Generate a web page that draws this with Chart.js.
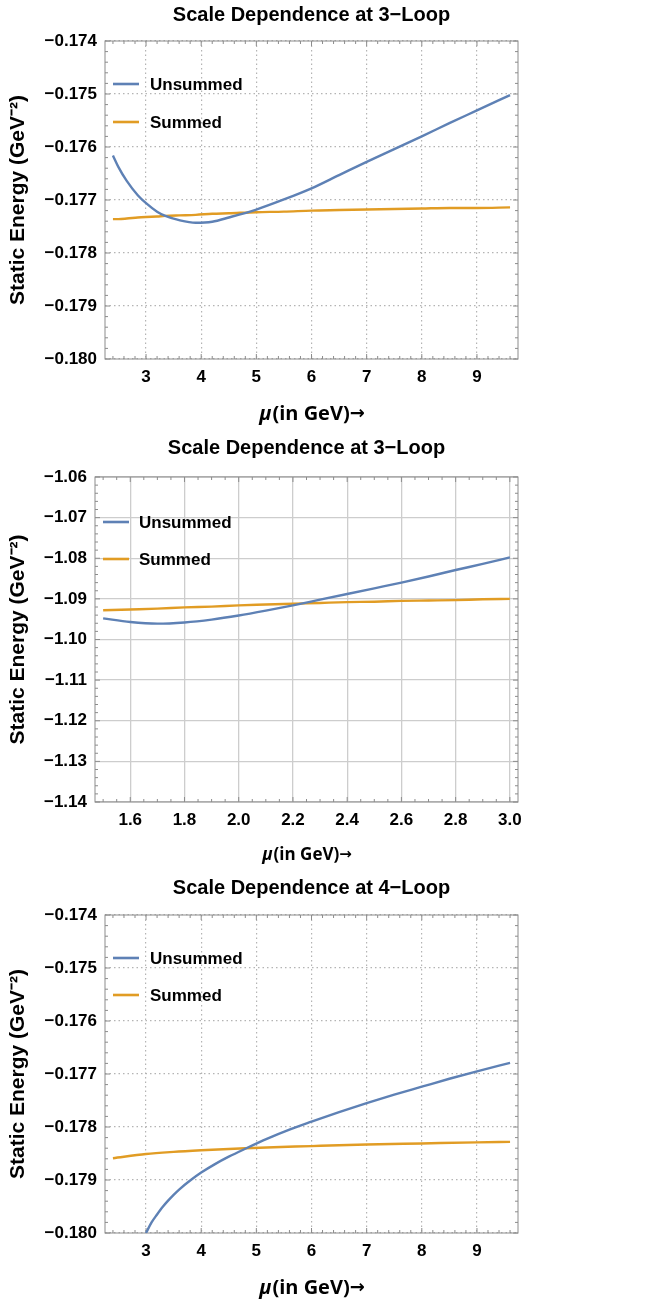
<!DOCTYPE html>
<html>
<head>
<meta charset="utf-8">
<script src="https://cdn.jsdelivr.net/npm/chart.js@4.4.0/dist/chart.umd.min.js"></script>
<style>
  html, body { margin: 0; padding: 0; background: #fff; }
  .panel { position: absolute; left: 0; width: 650px; }
</style>
</head>
<body>
<div class="panel" style="top:0"><canvas id="chart1" width="650" height="428"></canvas></div>
<div class="panel" style="top:428px"><canvas id="chart2" width="650" height="440"></canvas></div>
<div class="panel" style="top:868px"><canvas id="chart3" width="650" height="438"></canvas></div>
<script>
// --- panel 1: 3-loop, mu from 2.4 to 9.6 ---
const mu1 = [2.4, 2.5, 2.65, 2.85, 3.0, 3.2, 3.35, 3.6, 3.9, 4.2, 4.5, 5.0, 5.5, 6.0, 6.5, 7.0, 7.5, 8.0, 8.5, 9.0, 9.6];
const unsummed1 = [-0.17616, -0.17638, -0.17664, -0.17691, -0.17706, -0.17722, -0.17730, -0.17738, -0.17743,
  -0.17741, -0.17733, -0.17718, -0.17699, -0.17678, -0.17653, -0.17628, -0.17604, -0.17580, -0.17555, -0.17531, -0.17502];
const summed1 = [-0.17736, -0.17736, -0.17735, -0.17733, -0.17732, -0.17731, -0.17730, -0.17729, -0.17728,
  -0.17726, -0.17725, -0.17723, -0.17722, -0.17720, -0.17719, -0.17718, -0.17717, -0.17716, -0.17715, -0.17715, -0.17714];
const xTicks1 = [3, 4, 5, 6, 7, 8, 9];
const yTicks1 = [-0.180, -0.179, -0.178, -0.177, -0.176, -0.175, -0.174];

// --- panel 2: 3-loop, mu from 1.5 to 3.0 ---
const mu2 = [1.5, 1.6, 1.7, 1.8, 1.9, 2.0, 2.1, 2.2, 2.3, 2.4, 2.5, 2.6, 2.7, 2.8, 2.9, 3.0];
const unsummed2 = [-1.0948, -1.0957, -1.0961, -1.0958, -1.0951, -1.0941, -1.0929, -1.0916, -1.0902, -1.0888,
  -1.0874, -1.0860, -1.0845, -1.0829, -1.0814, -1.0798];
const summed2 = [-1.0928, -1.0926, -1.0924, -1.0921, -1.0919, -1.0916, -1.0914, -1.0912, -1.0910, -1.0908,
  -1.0907, -1.0905, -1.0904, -1.0903, -1.0901, -1.0900];
const xTicks2 = [1.6, 1.8, 2.0, 2.2, 2.4, 2.6, 2.8, 3.0];
const yTicks2 = [-1.14, -1.13, -1.12, -1.11, -1.10, -1.09, -1.08, -1.07, -1.06];

// --- panel 3: 4-loop (unsummed runs off the bottom below mu = 3) ---
const mu3Unsummed = [3.0, 3.1, 3.2, 3.3, 3.4, 3.5, 3.6, 3.8, 4.0, 4.25, 4.5, 4.8, 5.2, 5.6, 6.0, 6.5, 7.0, 7.5, 8.0, 8.5, 9.0, 9.6];
const unsummed3 = [-0.18000, -0.17980, -0.17965, -0.17951, -0.17939, -0.17928, -0.17918, -0.17901, -0.17886,
  -0.17870, -0.17856, -0.17841, -0.17822, -0.17805, -0.17790, -0.17772, -0.17755, -0.17739, -0.17724, -0.17709,
  -0.17695, -0.17679];
const mu3Summed = [2.4, 3.0, 3.5, 4.0, 4.8, 6.0, 7.0, 8.0, 9.0, 9.6];
const summed3 = [-0.17859, -0.17851, -0.17847, -0.17844, -0.17840, -0.17836, -0.17833, -0.17831, -0.17829, -0.17828];
const xTicks3 = [3, 4, 5, 6, 7, 8, 9];
const yTicks3 = [-0.180, -0.179, -0.178, -0.177, -0.176, -0.175, -0.174];

const seriesNames = ['Unsummed', 'Summed'];
const titles = ['Scale Dependence at 3\u2212Loop', 'Scale Dependence at 3\u2212Loop', 'Scale Dependence at 4\u2212Loop'];
const yTitle = 'Static Energy (GeV\u207B\u00B2)';

const BLUE = '#5E81B5';
const ORANGE = '#E19C24';
const FONT = '"Liberation Sans", Arial, sans-serif';
Chart.defaults.font.family = FONT;
Chart.defaults.color = '#000';

const pts = (xs, ys) => xs.map((x, i) => ({ x: x, y: ys[i] }));
const minus = s => s.replace('-', '\u2212');

// frame with inward major/minor ticks, Mathematica style
const framePlugin = {
  id: 'frame',
  beforeDatasetsDraw(chart, args, o) {
    const { ctx, chartArea: a, scales: { x, y } } = chart;
    ctx.save();
    ctx.strokeStyle = '#8c8c8c';
    ctx.lineWidth = 1;
    const seg = (x1, y1, x2, y2) => { ctx.beginPath(); ctx.moveTo(x1, y1); ctx.lineTo(x2, y2); ctx.stroke(); };
    const x0 = Math.ceil(x.min / o.xStep - 1e-6) * o.xStep;
    for (let i = 0; i < 200; i++) {
      const v = x0 + i * o.xStep;
      if (v > x.max) break;
      const major = o.xTicks.some(t => Math.abs(t - v) < 1e-6);
      const len = major ? 5 : 3;
      const px = x.getPixelForValue(v);
      seg(px, a.bottom, px, a.bottom - len);
      seg(px, a.top, px, a.top + len);
    }
    for (let i = 0; i < 200; i++) {
      const v = y.min + i * o.yStep;
      if (v > y.max + 1e-9) break;
      const major = o.yTicks.some(t => Math.abs(t - v) < o.yStep / 10);
      const len = major ? 5 : 3;
      const py = y.getPixelForValue(v);
      seg(a.left, py, a.left + len, py);
      seg(a.right, py, a.right - len, py);
    }
    ctx.strokeRect(a.left, a.top, a.right - a.left, a.bottom - a.top);
    ctx.restore();
  }
};

// legend drawn inside the plot, top-left
const innerLegend = {
  id: 'innerLegend',
  afterDatasetsDraw(chart, args, o) {
    const { ctx, chartArea: a } = chart;
    ctx.save();
    ctx.font = 'bold 17px ' + FONT;
    ctx.textBaseline = 'middle';
    ctx.fillStyle = '#000';
    chart.data.datasets.forEach((ds, i) => {
      const yy = a.top + o.y0 + i * o.dy;
      ctx.strokeStyle = ds.borderColor;
      ctx.lineWidth = 2.6;
      ctx.beginPath();
      ctx.moveTo(a.left + o.x0, yy);
      ctx.lineTo(a.left + o.x0 + 26, yy);
      ctx.stroke();
      ctx.fillText(ds.label, a.left + o.tx, yy + 1);
    });
    ctx.restore();
  }
};

// x axis title with an italic mu
const xTitlePlugin = {
  id: 'xTitle',
  afterDraw(chart, args, o) {
    const { ctx, chartArea: a } = chart;
    ctx.save();
    ctx.textBaseline = 'middle';
    ctx.fillStyle = '#000';
    const parts = [
      ['\u03BC', 'italic bold ' + o.size + 'px "Open Sans", ' + FONT],
      ['(in GeV)', 'bold ' + o.size + 'px "Open Sans", ' + FONT],
      ['\u2192', 'bold ' + Math.round(o.size * 0.9) + 'px "DejaVu Sans", ' + FONT]
    ];
    const widths = parts.map(p => { ctx.font = p[1]; return ctx.measureText(p[0]).width; });
    let xx = (a.left + a.right) / 2 - widths.reduce((s, w) => s + w, 0) / 2;
    parts.forEach((p, i) => {
      ctx.font = p[1];
      ctx.fillText(p[0], xx, o.y);
      xx += widths[i] + (i === 0 ? 1 : 0);
    });
    ctx.restore();
  }
};

function makeChart(id, p) {
  const dotted = p.dotted;
  const gridOpts = { color: dotted ? '#b4b4b4' : '#cdcdcd', lineWidth: dotted ? 1.2 : 1.3, drawTicks: false, tickLength: 0 };
  const borderOpts = { display: false, dash: dotted ? [1.5, 3] : [] };
  return new Chart(document.getElementById(id), {
    type: 'line',
    data: {
      datasets: [
        { label: seriesNames[0], data: p.unsummed, borderColor: BLUE, borderWidth: 2.4, pointRadius: 0,
          cubicInterpolationMode: 'monotone', fill: false },
        { label: seriesNames[1], data: p.summed, borderColor: ORANGE, borderWidth: 2.4, pointRadius: 0,
          cubicInterpolationMode: 'monotone', fill: false }
      ]
    },
    options: {
      responsive: false,
      animation: false,
      layout: { padding: { top: 0, right: 650 - p.right, bottom: 0, left: 0 } },
      scales: {
        x: {
          type: 'linear',
          min: p.xMin,
          max: p.xMax,
          afterBuildTicks: s => { s.ticks = p.xTicks.map(v => ({ value: v })); },
          afterFit: s => { s.height = p.height - p.bottom; },
          ticks: {
            autoSkip: false, maxRotation: 0, padding: 8,
            font: { size: 17, weight: 'bold' },
            callback: v => v.toFixed(p.xDec)
          },
          grid: gridOpts,
          border: borderOpts
        },
        y: {
          type: 'linear',
          min: p.yMin,
          max: p.yMax,
          afterBuildTicks: s => { s.ticks = p.yTicks.map(v => ({ value: v })); },
          afterFit: s => { s.width = p.left; },
          ticks: {
            autoSkip: false, padding: 8,
            font: { size: 17, weight: 'bold' },
            callback: v => minus(v.toFixed(p.yDec))
          },
          grid: gridOpts,
          border: borderOpts,
          title: {
            display: true, text: yTitle, color: '#000',
            font: { size: 21, weight: 'bold' },
            padding: { top: 6, bottom: 0 }
          }
        }
      },
      plugins: {
        legend: { display: false },
        tooltip: { enabled: false },
        title: {
          display: true, text: p.title, fullSize: false, color: '#000',
          font: { size: 20, weight: 'bold' },
          padding: { top: p.titleTop, bottom: p.top - p.titleTop - 24 }
        },
        frame: { xStep: p.xStep, yStep: p.yStep, xTicks: p.xTicks, yTicks: p.yTicks },
        innerLegend: p.legend,
        xTitle: { y: p.xTitleY, size: p.xTitleSize }
      }
    },
    plugins: [framePlugin, innerLegend, xTitlePlugin]
  });
}

makeChart('chart1', {
  unsummed: pts(mu1, unsummed1), summed: pts(mu1, summed1),
  xMin: 2.256, xMax: 9.744, yMin: -0.180, yMax: -0.174,
  xTicks: xTicks1, yTicks: yTicks1, xDec: 0, yDec: 3, xStep: 0.2, yStep: 0.0002,
  title: titles[0], dotted: true,
  left: 105, right: 518, top: 41, bottom: 359, height: 428, titleTop: 3,
  legend: { x0: 8, tx: 45, y0: 43, dy: 38 },
  xTitleY: 414, xTitleSize: 20
});

makeChart('chart2', {
  unsummed: pts(mu2, unsummed2), summed: pts(mu2, summed2),
  xMin: 1.47, xMax: 3.03, yMin: -1.14, yMax: -1.06,
  xTicks: xTicks2, yTicks: yTicks2, xDec: 1, yDec: 2, xStep: 0.05, yStep: 0.002,
  title: titles[1], dotted: false,
  left: 95, right: 518, top: 49, bottom: 374, height: 440, titleTop: 8,
  legend: { x0: 8, tx: 44, y0: 45, dy: 37 },
  xTitleY: 427, xTitleSize: 17
});

makeChart('chart3', {
  unsummed: pts(mu3Unsummed, unsummed3), summed: pts(mu3Summed, summed3),
  xMin: 2.256, xMax: 9.744, yMin: -0.180, yMax: -0.174,
  xTicks: xTicks3, yTicks: yTicks3, xDec: 0, yDec: 3, xStep: 0.2, yStep: 0.0002,
  title: titles[2], dotted: true,
  left: 105, right: 518, top: 47, bottom: 365, height: 438, titleTop: 8,
  legend: { x0: 8, tx: 45, y0: 43, dy: 37 },
  xTitleY: 420, xTitleSize: 20
});
</script>
</body>
</html>
